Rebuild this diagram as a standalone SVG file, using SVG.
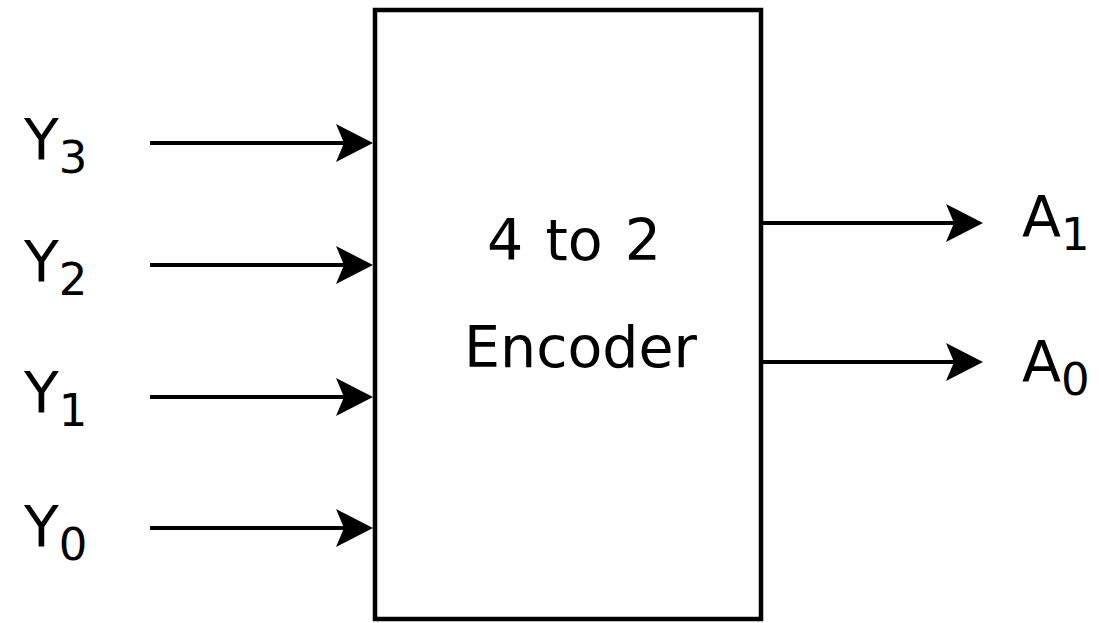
<svg xmlns="http://www.w3.org/2000/svg" width="1099" height="623" viewBox="0 0 1099 623">
<style>
text{font-family:"DejaVu Sans","Verdana",sans-serif;fill:#000;}
.lbl{font-size:57px;}
.sub{font-size:45px;}
.wire{stroke:#000;stroke-width:4;fill:none;}
.box{fill:#fff;stroke:#000;stroke-width:4.5;}
</style>
<defs>
<marker id="arr" markerUnits="userSpaceOnUse" viewBox="0 -20 40 40" markerWidth="40" markerHeight="40" refX="8" refY="0" orient="auto" overflow="visible">
<path d="M0,-19 L37,0 L0,19 L8,0 Z" fill="#000"/>
</marker>
</defs>
<g id="encoder">
<rect class="box" x="375" y="10" width="386" height="609"/>
<text class="lbl" x="487" y="260" word-spacing="4">4 to 2</text>
<text class="lbl" x="464" y="367">Encoder</text>
</g>
<g id="connectors">
<line class="wire" x1="150" y1="143" x2="344" y2="143" marker-end="url(#arr)"/>
<line class="wire" x1="150" y1="265" x2="344" y2="265" marker-end="url(#arr)"/>
<line class="wire" x1="150" y1="397" x2="344" y2="397" marker-end="url(#arr)"/>
<line class="wire" x1="150" y1="528" x2="344" y2="528" marker-end="url(#arr)"/>
<line class="wire" x1="761" y1="223" x2="954" y2="223" marker-end="url(#arr)"/>
<line class="wire" x1="761" y1="362" x2="954" y2="362" marker-end="url(#arr)"/>
</g>
<g id="Y3"><text class="lbl" x="24" y="160">Y<tspan class="sub" dy="13">3</tspan></text></g>
<g id="Y2"><text class="lbl" x="24" y="282">Y<tspan class="sub" dy="13">2</tspan></text></g>
<g id="Y1"><text class="lbl" x="24" y="413">Y<tspan class="sub" dy="13">1</tspan></text></g>
<g id="Y0"><text class="lbl" x="24" y="547">Y<tspan class="sub" dy="13">0</tspan></text></g>
<g id="A1"><text class="lbl" x="1022" y="237">A<tspan class="sub" dy="13">1</tspan></text></g>
<g id="A0"><text class="lbl" x="1022" y="382">A<tspan class="sub" dy="13">0</tspan></text></g>
</svg>
